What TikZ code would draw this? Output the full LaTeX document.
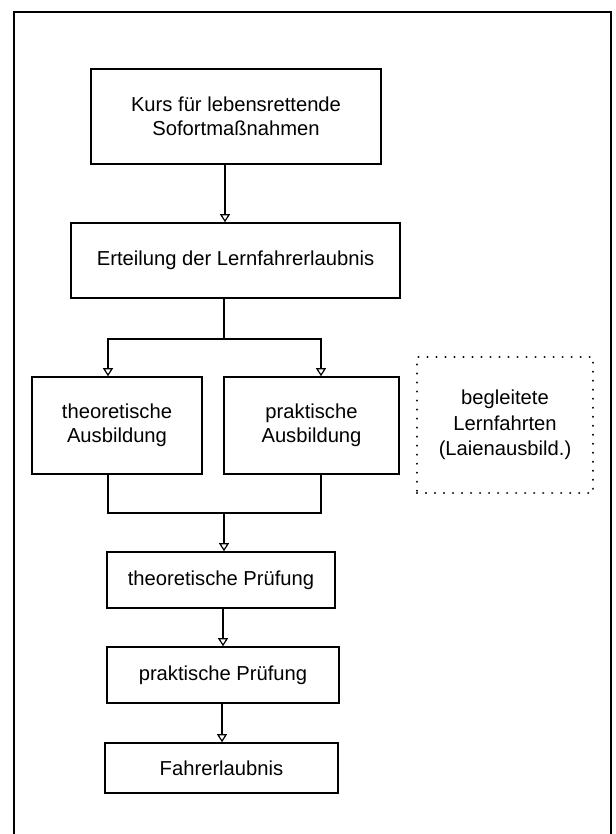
\documentclass[tikz,border=0pt]{standalone}
\usepackage{fontspec}
\setmainfont{Liberation Sans}
\usetikzlibrary{arrows.meta}
\begin{document}
\begin{tikzpicture}[x=1pt,y=-1pt,
  box/.style={draw, line width=1.6pt, inner sep=0pt, align=center,
    font=\fontsize{20.2}{24.5}\selectfont},
  dotbox/.style={draw, line width=2.3pt, line cap=round,
    dash pattern=on 0.01pt off 9pt, inner sep=0pt, align=center,
    font=\fontsize{20.2}{25.5}\selectfont},
  conn/.style={line width=1.5pt},
  arr/.style={line width=1.5pt,
    -{Triangle[open, width=10pt, length=8pt, line width=1.2pt]}},
  frame/.style={line width=1.8pt}]
\useasboundingbox (0,0) rectangle (615,834);
% outer frame (bottom edge lies below the picture)
\draw[frame] (14,850) -- (14,12) -- (611,12) -- (611,850);

% boxes
\node[box, minimum width=290pt, minimum height=95pt] (b1) at (236,116.5)
  {Kurs für lebensrettende\\Sofortmaßnahmen};
\node[box, minimum width=329pt, minimum height=75pt] (b2) at (235.5,260.5)
  {Erteilung der Lernfahrerlaubnis};
\node[box, minimum width=170pt, minimum height=97pt] (b3) at (117,425.5)
  {theoretische\\Ausbildung};
\node[box, minimum width=175pt, minimum height=97pt] (b4) at (311.5,425.5)
  {praktische\\Ausbildung};
\node[dotbox, minimum width=176pt, minimum height=136pt] (d) at (505,425)
  {begleitete\\Lernfahrten\\(Laienausbild.)};
\node[box, minimum width=228pt, minimum height=56pt] (b5) at (221,580)
  {theoretische Prüfung};
\node[box, minimum width=232pt, minimum height=56pt] (b6) at (223,675)
  {praktische Prüfung};
\node[box, minimum width=233pt, minimum height=50pt] (b7) at (221.5,768)
  {Fahrerlaubnis};

% connector helper coordinates
\coordinate (x1) at (225,0);
\coordinate (split) at (224,339);
\coordinate (sl) at (108,339);
\coordinate (sr) at (321,339);
\coordinate (jl) at (108,513);
\coordinate (jr) at (321,513);
\coordinate (jm) at (224,513);
\coordinate (x5) at (223,0);
\coordinate (x6) at (222,0);

% connectors
\draw[arr] (b1.south -| x1) -- (b2.north -| x1);
\draw[conn] (b2.south -| split) -- (split);
\draw[arr] (split) -- (sl) -- (b3.north -| sl);
\draw[arr] (split) -- (sr) -- (b4.north -| sr);
\draw[conn] (b3.south -| jl) -- (jl) -- (jr) -- (b4.south -| jr);
\draw[arr] (jm) -- (b5.north -| jm);
\draw[arr] (b5.south -| x5) -- (b6.north -| x5);
\draw[arr] (b6.south -| x6) -- (b7.north -| x6);
\end{tikzpicture}
\end{document}
